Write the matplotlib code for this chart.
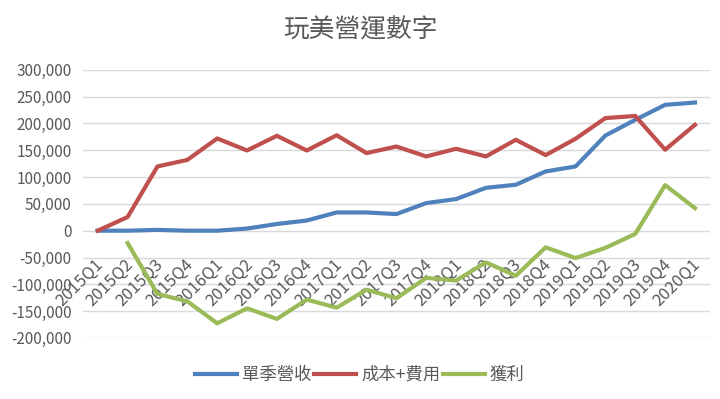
import numpy as np
import matplotlib
matplotlib.use('Agg')
from matplotlib import pyplot as plt
import matplotlib.transforms as mtransforms

plt.rcParams['font.family'] = ['Noto Sans CJK TC', 'DejaVu Sans']

quarters = ['2015Q1', '2015Q2', '2015Q3', '2015Q4',
            '2016Q1', '2016Q2', '2016Q3', '2016Q4',
            '2017Q1', '2017Q2', '2017Q3', '2017Q4',
            '2018Q1', '2018Q2', '2018Q3', '2018Q4',
            '2019Q1', '2019Q2', '2019Q3', '2019Q4', '2020Q1']

revenue = [0, 0, 1500, 0, 0, 4000, 12500, 19000, 34000, 34000, 31000,
           51500, 59000, 80000, 85700, 110500, 119800, 177500, 206800,
           234700, 239000]
cost = [0, 25500, 119800, 132000, 172000, 149600, 177000, 149600, 178000,
        144700, 157000, 138500, 152800, 138500, 169500, 141000, 171400,
        210000, 214000, 151000, 197500]
# first quarter has no profit point
profit = [np.nan, -23000, -118000, -131700, -172700, -144700, -164500,
          -128500, -143500, -110000, -126000, -88000, -93000, -59000,
          -84000, -31000, -51000, -32000, -6000, 85000, 42000]

yticks = [-200000, -150000, -100000, -50000, 0, 50000, 100000, 150000,
          200000, 250000, 300000]

fig = plt.figure(figsize=(7.2, 3.99), dpi=100)
ax = fig.add_axes([0.115, 0.153, 0.871, 0.672])

x = np.arange(len(quarters))
ax.plot(x, revenue, color='#4F81BD', lw=3, label='單季營收', zorder=3)
ax.plot(x, cost, color='#C0504D', lw=3, label='成本+費用', zorder=3)
ax.plot(x, profit, color='#9BBB59', lw=3, label='獲利', zorder=3)

ax.set_xlim(-0.5, len(quarters) - 0.5)
ax.set_ylim(-200000, 300000)
ax.set_yticks(yticks)
ax.set_yticklabels([f'{v:,}' for v in yticks], fontsize=11, color='#595959')
ax.yaxis.grid(True, color='#D9D9D9', lw=1)
ax.set_axisbelow(True)
ax.tick_params(length=0, pad=8)

for s in ['top', 'right', 'left', 'bottom']:
    ax.spines[s].set_visible(False)
ax.set_xticks([])

# category labels hang off the zero line, like excel does it
shift = mtransforms.ScaledTranslation(3 / 100, -31 / 100, fig.dpi_scale_trans)
for i, q in enumerate(quarters):
    ax.text(i, 0, q, fontsize=12, color='#595959', rotation=45,
            ha='right', va='center', rotation_mode='anchor',
            transform=ax.transData + shift, zorder=2)

fig.suptitle('玩美營運數字', fontsize=18.5, color='#595959', y=0.955)

fig.legend(loc='center', bbox_to_anchor=(0.5, 0.06), ncol=3, frameon=False,
           fontsize=12.5, handlelength=2.4, columnspacing=0.15,
           handletextpad=0.3, labelcolor='#595959')

fig.savefig('out.png', dpi=100)
